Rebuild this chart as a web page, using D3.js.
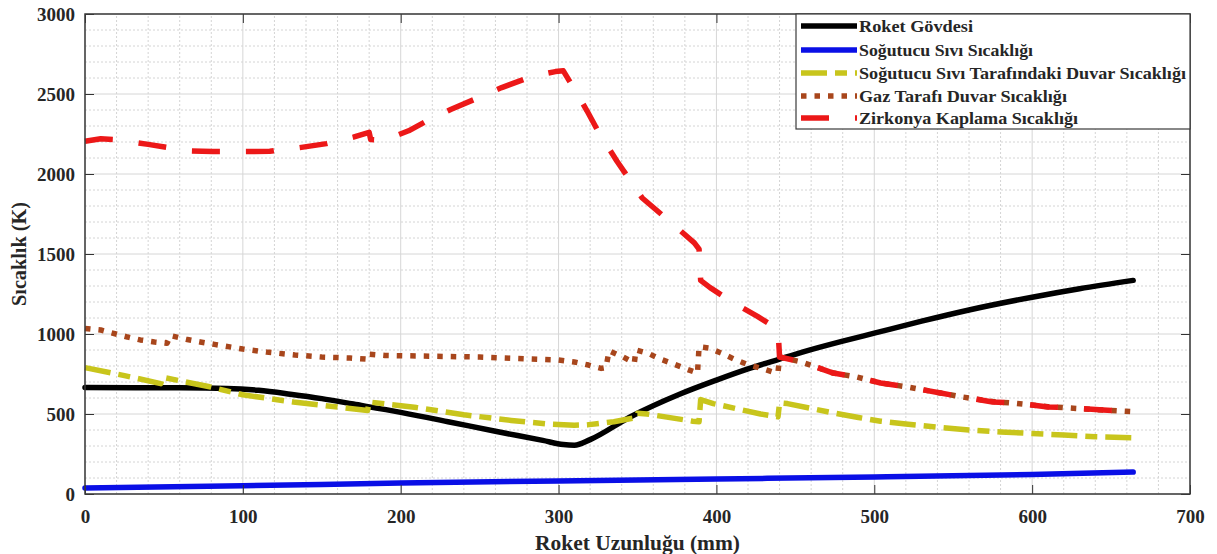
<!DOCTYPE html>
<html>
<head>
<meta charset="utf-8">
<script src="https://cdn.jsdelivr.net/npm/d3@7"></script>
<style>
    body { margin: 0; background: #fff; }
    svg { display: block; }
    text { font-family: "Liberation Serif", "Times New Roman", Times, "Nimbus Roman", "DejaVu Serif", serif; font-weight: bold; fill: #262626; }
</style>
</head>
<body>
<div id="chart"></div>
<script>
// series, [mm, K]
const roketGovdesi = [[0,665],[60,664],[90,660],[110,648],[130,624],[150,596],[170,562],[200,510],[230,452],[260,392],[290,335],[303,309],[310,305],[320,340],[345,480],[377,625],[400,712],[420,782],[440,843],[455,888],[480,955],[500,1005],[530,1080],[560,1150],[600,1230],[630,1283],[664,1335]];
const sogutucuSivi = [[0,38],[100,52],[200,68],[300,82],[400,94],[500,106],[600,122],[664,137]];
const sogutucuDuvar = [[0,790],[25,740],[48,690],[49,730],[79,670],[100,620],[132,575],[179,522],[180,575],[210,540],[240,495],[270,460],[293,438],[310,430],[318,432],[335,452],[349,478],[350,505],[356,500],[385,455],[389,452],[390,590],[398,565],[428,500],[439,482],[440,570],[445,565],[460,535],[475,505],[490,478],[504,455],[520,437],[540,418],[560,400],[580,388],[600,378],[620,369],[640,358],[664,352]];
const gazDuvar = [[0,1035],[10,1025],[27,981],[35,963],[44,950],[52,942],[54,990],[64,967],[73,950],[82,935],[100,906],[115,887],[133,869],[150,856],[168,850],[178,843],[179,875],[190,866],[250,856],[300,838],[310,825],[319,806],[327,785],[330,790],[332,895],[341,856],[348,819],[349,900],[357,878],[364,845],[373,812],[381,781],[388,756],[389,920],[395,913],[403,881],[411,844],[419,812],[428,787],[436,762],[439,760],[440,856],[454,825],[474,756],[489,731],[504,694],[521,669],[542,631],[556,606],[575,578],[590,566],[610,546],[626,536],[645,525],[664,515]];
const zirkonya = [[0,2205],[10,2220],[20,2215],[40,2185],[65,2145],[81,2140],[101,2140],[117,2142],[136,2165],[153,2190],[170,2230],[180,2260],[181,2215],[189,2210],[205,2270],[218,2340],[232,2405],[250,2480],[264,2540],[283,2610],[298,2640],[303,2645],[310,2530],[318,2395],[326,2250],[337,2080],[353,1850],[372,1690],[386,1570],[389,1530],[390,1335],[396,1290],[410,1200],[426,1110],[439,1030],[440,856],[454,825],[474,756],[489,731],[504,694],[521,669],[542,631],[556,606],[575,575],[590,569],[610,544],[626,538],[645,525],[664,515]];

const seriesNames = ["Roket Gövdesi", "Soğutucu Sıvı Sıcaklığı", "Soğutucu Sıvı Tarafındaki Duvar Sıcaklığı", "Gaz Tarafı Duvar Sıcaklığı", "Zirkonya Kaplama Sıcaklığı"];
const xTicks = [0, 100, 200, 300, 400, 500, 600, 700];
const yTicks = [0, 500, 1000, 1500, 2000, 2500, 3000];
const xTitle = "Roket Uzunluğu (mm)";
const yTitle = "Sıcaklık (K)";

const width = 1217, height = 554;
const margin = { top: 14, right: 27, bottom: 60, left: 85 };

const svg = d3.select("#chart").append("svg")
    .attr("width", width)
    .attr("height", height);

const x = d3.scaleLinear().domain([0, 700]).range([margin.left, width - margin.right]);
const y = d3.scaleLinear().domain([0, 3000]).range([height - margin.bottom, margin.top]);

// grid
const grid = svg.append("g");
d3.range(0, 701, 20).filter(v => v % 100 !== 0).forEach(v => {
    grid.append("line").attr("x1", x(v)).attr("x2", x(v)).attr("y1", y(0)).attr("y2", y(3000))
        .attr("stroke", "#d4d4d4").attr("stroke-width", 1).attr("stroke-dasharray", "2,2");
});
d3.range(0, 3001, 100).filter(v => v % 500 !== 0).forEach(v => {
    grid.append("line").attr("x1", x(0)).attr("x2", x(700)).attr("y1", y(v)).attr("y2", y(v))
        .attr("stroke", "#d4d4d4").attr("stroke-width", 1).attr("stroke-dasharray", "2,2");
});
xTicks.forEach(v => {
    grid.append("line").attr("x1", x(v)).attr("x2", x(v)).attr("y1", y(0)).attr("y2", y(3000))
        .attr("stroke", "#d6d6d6").attr("stroke-width", 1);
});
yTicks.forEach(v => {
    grid.append("line").attr("x1", x(0)).attr("x2", x(700)).attr("y1", y(v)).attr("y2", y(v))
        .attr("stroke", "#d6d6d6").attr("stroke-width", 1);
});

// lines
const line = d3.line().x(d => x(d[0])).y(d => y(d[1]));
const smoothLine = d3.line().x(d => x(d[0])).y(d => y(d[1])).curve(d3.curveMonotoneX);
const styles = [
    { data: roketGovdesi, color: "#000000", dash: null, cap: "round", gen: smoothLine },
    { data: sogutucuSivi, color: "#0a0fe6", dash: null, cap: "round", gen: smoothLine },
    { data: sogutucuDuvar, color: "#c8c51c", dash: "26,8,12,8", cap: "butt", gen: line },
    { data: gazDuvar, color: "#a8461c", dash: "5.5,8", cap: "butt", gen: line },
    { data: zirkonya, color: "#ec1818", dash: "28,26", cap: "butt", gen: line }
];
styles.forEach(s => {
    svg.append("path")
        .datum(s.data)
        .attr("fill", "none")
        .attr("stroke", s.color)
        .attr("stroke-width", 5.5)
        .attr("stroke-linejoin", "round")
        .attr("stroke-linecap", s.cap)
        .attr("stroke-dasharray", s.dash)
        .attr("d", s.gen);
});

// axes, ticks inward
const axisStyle = g => {
    g.select(".domain").remove();
    g.selectAll(".tick line").attr("stroke", "#333").attr("stroke-width", 1);
    g.attr("font-family", null);
};
svg.append("g").attr("transform", `translate(0,${y(0)})`)
    .call(d3.axisBottom(x).tickValues(xTicks).tickSizeInner(-9).tickSizeOuter(0).tickPadding(16).tickFormat(d3.format("d")))
    .call(axisStyle)
    .selectAll("text").style("font-size", "19px").attr("fill", "#262626");
svg.append("g").attr("transform", `translate(0,${y(3000)})`)
    .call(d3.axisTop(x).tickValues(xTicks).tickSizeInner(-9).tickSizeOuter(0).tickFormat(""))
    .call(axisStyle);
svg.append("g").attr("transform", `translate(${x(0)},0)`)
    .call(d3.axisLeft(y).tickValues(yTicks).tickSizeInner(-9).tickSizeOuter(0).tickPadding(10).tickFormat(d3.format("d")))
    .call(axisStyle)
    .selectAll("text").style("font-size", "19px").attr("fill", "#262626");
svg.append("g").attr("transform", `translate(${x(700)},0)`)
    .call(d3.axisRight(y).tickValues(yTicks).tickSizeInner(-9).tickSizeOuter(0).tickFormat(""))
    .call(axisStyle);

svg.append("rect")
    .attr("x", x(0)).attr("y", y(3000))
    .attr("width", x(700) - x(0)).attr("height", y(0) - y(3000))
    .attr("fill", "none").attr("stroke", "#3a3a3a").attr("stroke-width", 1.5);

// titles
svg.append("text")
    .attr("x", (x(0) + x(700)) / 2).attr("y", 550)
    .attr("text-anchor", "middle")
    .attr("textLength", 205).attr("lengthAdjust", "spacingAndGlyphs")
    .style("font-size", "20px")
    .text(xTitle);
svg.append("text")
    .attr("transform", `translate(26,${(y(0) + y(3000)) / 2}) rotate(-90)`)
    .attr("text-anchor", "middle")
    .attr("textLength", 104).attr("lengthAdjust", "spacingAndGlyphs")
    .style("font-size", "20px")
    .text(yTitle);

// legend
const legend = svg.append("g");
legend.append("rect")
    .attr("x", 796).attr("y", y(3000))
    .attr("width", x(700) - 796).attr("height", 115)
    .attr("fill", "#fff").attr("stroke", "#3a3a3a").attr("stroke-width", 1.2);
const rowY = [26, 50, 73, 96, 118];
const labelWidths = [114, 174, 327, 208, 219];
styles.forEach((s, i) => {
    legend.append("line")
        .attr("x1", 801).attr("x2", 857).attr("y1", rowY[i]).attr("y2", rowY[i])
        .attr("stroke", s.color).attr("stroke-width", 5.5)
        .attr("stroke-linecap", "butt")
        .attr("stroke-dasharray", s.dash);
    legend.append("text")
        .attr("x", 859).attr("y", rowY[i])
        .attr("dy", "0.35em")
        .attr("textLength", labelWidths[i]).attr("lengthAdjust", "spacingAndGlyphs")
        .style("font-size", "17px")
        .text(seriesNames[i]);
});
</script>
</body>
</html>
